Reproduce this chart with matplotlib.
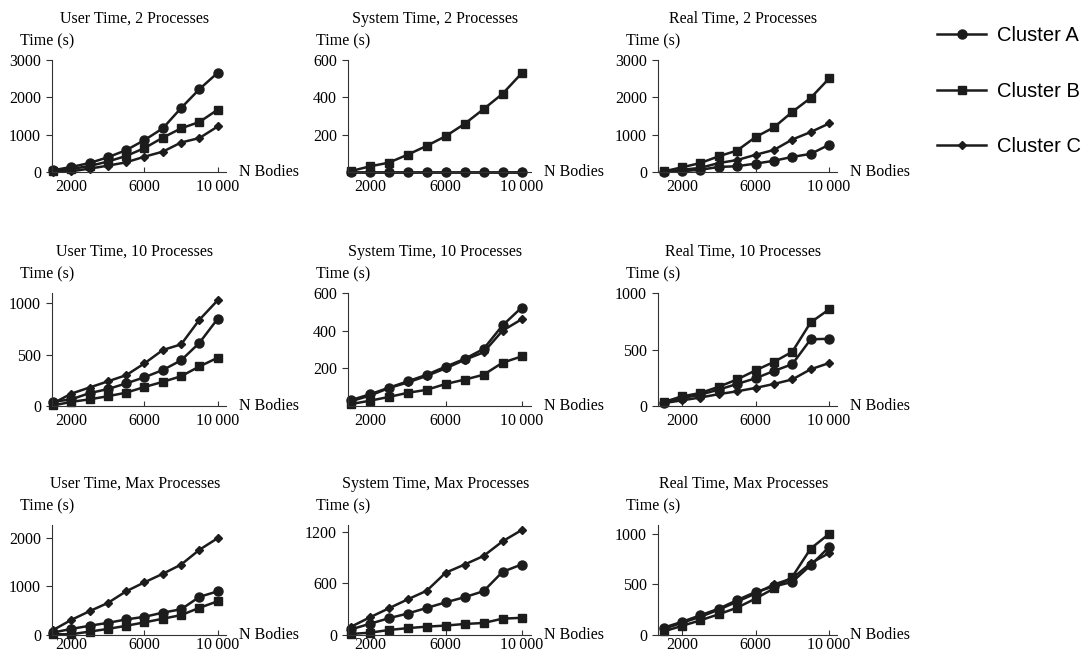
import matplotlib
matplotlib.use("Agg")
import matplotlib.pyplot as plt

# N bodies on the x axis
n_bodies = [1000, 2000, 3000, 4000, 5000, 6000, 7000, 8000, 9000, 10000]

clusters = ["Cluster A", "Cluster B", "Cluster C"]

titles = [
    ["User Time, 2 Processes", "System Time, 2 Processes", "Real Time, 2 Processes"],
    ["User Time, 10 Processes", "System Time, 10 Processes", "Real Time, 10 Processes"],
    ["User Time, Max Processes", "System Time, Max Processes", "Real Time, Max Processes"],
]

# times in seconds
user_2_a = [45, 135, 240, 395, 585, 855, 1170, 1715, 2220, 2660]
user_2_b = [20, 80, 160, 280, 430, 640, 920, 1170, 1340, 1670]
user_2_c = [0, 20, 90, 170, 260, 410, 545, 790, 910, 1220]

sys_2_a = [2, 2, 2, 2, 2, 2, 2, 2, 2, 2]
sys_2_b = [5, 30, 50, 93, 140, 192, 258, 337, 419, 528]
sys_2_c = [1, 1, 1, 1, 1, 1, 1, 1, 1, 1]

real_2_a = [10, 20, 60, 135, 155, 225, 300, 405, 485, 730]
real_2_b = [15, 125, 240, 420, 575, 935, 1195, 1610, 1985, 2505]
real_2_c = [0, 60, 110, 240, 320, 460, 590, 870, 1070, 1300]

user_10_a = [40, 65, 125, 165, 220, 280, 350, 445, 615, 850]
user_10_b = [5, 40, 65, 95, 130, 185, 235, 290, 385, 470]
user_10_c = [25, 120, 180, 240, 300, 415, 545, 600, 840, 1030]

sys_10_a = [31, 62, 97, 131, 166, 209, 250, 303, 428, 522]
sys_10_b = [10, 28, 48, 70, 86, 117, 140, 166, 230, 263]
sys_10_c = [25, 55, 95, 125, 160, 200, 245, 285, 400, 460]

real_10_a = [30, 70, 100, 145, 195, 245, 310, 370, 590, 595]
real_10_b = [35, 85, 115, 170, 235, 315, 390, 480, 740, 855]
real_10_c = [25, 50, 75, 105, 130, 160, 195, 235, 325, 380]

user_max_a = [50, 125, 190, 250, 320, 375, 460, 530, 785, 900]
user_max_b = [15, 15, 70, 125, 190, 260, 335, 410, 560, 695]
user_max_c = [100, 310, 490, 660, 900, 1085, 1260, 1450, 1755, 1995]

sys_max_a = [65, 130, 195, 250, 315, 380, 440, 510, 735, 820]
sys_max_b = [12, 27, 58, 80, 97, 110, 128, 140, 190, 200]
sys_max_c = [95, 205, 310, 415, 515, 725, 820, 920, 1090, 1220]

real_max_a = [72, 130, 195, 260, 345, 425, 480, 525, 690, 870]
real_max_b = [35, 90, 145, 205, 270, 360, 460, 575, 855, 1000]
real_max_c = [60, 120, 180, 250, 330, 410, 500, 560, 710, 810]

series = [
    [(user_2_a, user_2_b, user_2_c), (sys_2_a, sys_2_b, sys_2_c), (real_2_a, real_2_b, real_2_c)],
    [(user_10_a, user_10_b, user_10_c), (sys_10_a, sys_10_b, sys_10_c), (real_10_a, real_10_b, real_10_c)],
    [(user_max_a, user_max_b, user_max_c), (sys_max_a, sys_max_b, sys_max_c), (real_max_a, real_max_b, real_max_c)],
]

y_ticks = [
    [[0, 1000, 2000, 3000], [200, 400, 600], [0, 1000, 2000, 3000]],
    [[0, 500, 1000], [200, 400, 600], [0, 500, 1000]],
    [[0, 1000, 2000], [0, 600, 1200], [0, 500, 1000]],
]
y_tops = [[3000, 600, 3000], [1100, 600, 1000], [2265, 1280, 1088]]

x_ticks = [2000, 6000, 10000]
x_tick_labels = ["2000", "6000", "10\u2009000"]

# layout in pixels
W, H = 1084, 655
col_left = [52, 348, 658]
col_width = [174, 183, 179]
col_xlim = [(950, 10450), (850, 10500), (700, 10430)]
row_top = [60, 293, 525]
row_bottom = [172, 406, 635]
row_xpad = [5, 5, 1.5]

markers = ["o", "s", "D"]
msizes = [6.5, 6.0, 4.0]
ink = "#1c1c1c"

plt.rcParams["font.family"] = ["Liberation Serif", "DejaVu Serif"]
plt.rcParams["font.size"] = 11.5

fig = plt.figure(figsize=(W / 100, H / 100), dpi=100)

handles = []
for r in range(3):
    for c in range(3):
        ax = fig.add_axes([col_left[c] / W, 1 - row_bottom[r] / H,
                           col_width[c] / W, (row_bottom[r] - row_top[r]) / H])
        for k in range(3):
            line, = ax.plot(n_bodies, series[r][c][k], color=ink, lw=1.8,
                            marker=markers[k], ms=msizes[k], clip_on=False,
                            label=clusters[k])
            if r == 0 and c == 0:
                handles.append(line)
        ax.set_xlim(*col_xlim[c])
        ax.set_ylim(0, y_tops[r][c])
        ax.set_xticks(x_ticks)
        ax.set_xticklabels(x_tick_labels)
        ax.set_yticks(y_ticks[r][c])
        for s in ["top", "right"]:
            ax.spines[s].set_visible(False)
        for s in ["left", "bottom"]:
            ax.spines[s].set_color("#333333")
            ax.spines[s].set_linewidth(0.8)
        ax.tick_params(axis="x", direction="in", length=3.5, pad=row_xpad[r], color="#333333")
        ax.tick_params(axis="y", direction="out", length=4, pad=4, color="#333333")
        ax.annotate(titles[r][c], xy=(0.5, 1), xycoords="axes fraction",
                    xytext=(-3, 41 * 0.72), textcoords="offset points",
                    ha="center", va="center")
        ax.annotate("Time (s)", xy=(0, 1), xycoords="axes fraction",
                    xytext=(-32 * 0.72, 19 * 0.72), textcoords="offset points",
                    ha="left", va="center")
        ax.annotate("N Bodies", xy=(1, 0), xycoords="axes fraction",
                    xytext=(13 * 0.72, 0), textcoords="offset points",
                    ha="left", va="center")

fig.legend(handles=handles, labels=clusters, loc="upper left",
           bbox_to_anchor=(937 / W, 1 - 26 / H), frameon=False,
           prop={"family": ["Liberation Sans", "DejaVu Sans"], "size": 14.5},
           handlelength=2.45, handletextpad=0.55, labelspacing=1.82,
           borderpad=0, borderaxespad=0)

fig.savefig("out.png", dpi=100)
